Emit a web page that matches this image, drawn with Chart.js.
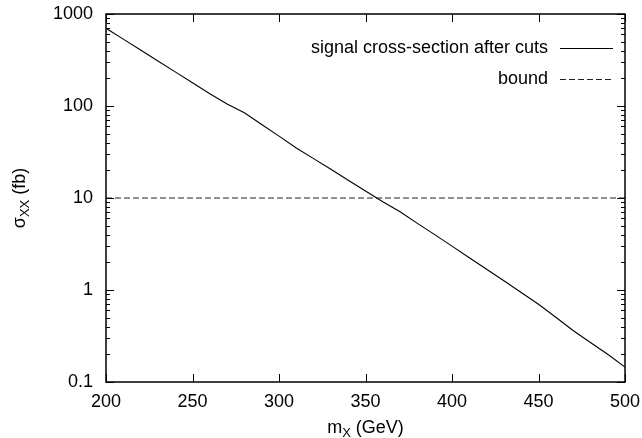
<!DOCTYPE html>
<html>
<head>
<meta charset="utf-8">
<script src="https://cdn.jsdelivr.net/npm/chart.js@4/dist/chart.umd.min.js"></script>
<style>
    body { margin: 0; background: #fff; }
    #wrap { width: 642px; height: 438px; }
</style>
</head>
<body>
<div id="wrap"><canvas id="xsecChart" width="642" height="438"></canvas></div>
<script>
// data
const massValues = [200, 210, 220, 230, 240, 250, 260, 270, 280, 290, 300, 310, 320, 330, 340, 350,
                    360, 370, 380, 390, 400, 410, 420, 430, 440, 450, 460, 470, 480, 490, 500];
const signalXsec = [700, 533, 406, 309, 235, 179, 136, 105, 84.6, 63, 47, 35, 26.8, 20.5, 15.6, 11.9,
                    9.1, 7.1, 5.3, 4.0, 3.0, 2.24, 1.68, 1.26, 0.94, 0.70, 0.506, 0.363, 0.269, 0.2, 0.145];
const boundMass = [200, 500];
const boundXsec = [10, 10];
const xTickValues = [200, 250, 300, 350, 400, 450, 500];
const yTickValues = [0.1, 1, 10, 100, 1000];
const seriesLabels = ['signal cross-section after cuts', 'bound'];

const FONT = '"Liberation Sans", Arial, Helvetica, sans-serif';

// gnuplot style frame, inward ticks, axis titles and legend
const gnuplotFrame = {
    id: 'gnuplotFrame',
    afterDraw(chart) {
        const ctx = chart.ctx;
        const area = chart.chartArea;
        const xs = chart.scales.x;
        const ys = chart.scales.y;
        ctx.save();
        ctx.strokeStyle = '#000';

        // ticks
        ctx.lineWidth = 1;
        ctx.beginPath();
        xTickValues.forEach(v => {
            const px = Math.round(xs.getPixelForValue(v)) + 0.5;
            ctx.moveTo(px, area.bottom); ctx.lineTo(px, area.bottom - 8);
            ctx.moveTo(px, area.top); ctx.lineTo(px, area.top + 8);
        });
        for (let k = -1; k <= 3; k++) {
            for (let m = 1; m <= 9; m++) {
                const v = m * Math.pow(10, k);
                if (v < 0.1 || v > 1000) continue;
                const len = m === 1 ? 8 : 4;
                const py = Math.round(ys.getPixelForValue(v)) + 0.5;
                ctx.moveTo(area.left, py); ctx.lineTo(area.left + len, py);
                ctx.moveTo(area.right, py); ctx.lineTo(area.right - len, py);
            }
        }
        ctx.stroke();

        // frame
        ctx.lineWidth = 1.5;
        ctx.strokeRect(area.left, area.top, area.right - area.left, area.bottom - area.top);

        // legend (text left of sample, right aligned)
        ctx.font = '18px ' + FONT;
        ctx.fillStyle = '#000';
        ctx.textAlign = 'right';
        ctx.textBaseline = 'middle';
        chart.data.datasets.forEach((ds, i) => {
            const ly = 48 + i * 31;
            ctx.fillText(ds.label, 548, ly);
            ctx.save();
            ctx.lineWidth = 1;
            ctx.strokeStyle = ds.borderColor;
            ctx.setLineDash(ds.borderDash || []);
            ctx.beginPath();
            ctx.moveTo(560, ly + 0.5);
            ctx.lineTo(613, ly + 0.5);
            ctx.stroke();
            ctx.restore();
        });

        // axis titles with subscripts
        const drawSub = (parts, cx, cy) => {
            let total = 0;
            parts.forEach(p => { ctx.font = p.size + 'px ' + FONT; total += ctx.measureText(p.t).width; });
            let x = cx - total / 2;
            ctx.textAlign = 'left';
            ctx.textBaseline = 'alphabetic';
            parts.forEach(p => {
                ctx.font = p.size + 'px ' + FONT;
                ctx.fillText(p.t, x, cy + (p.dy || 0));
                x += ctx.measureText(p.t).width;
            });
        };
        drawSub([{ t: 'm', size: 18 }, { t: 'X', size: 13, dy: 4 }, { t: ' (GeV)', size: 18 }],
                (area.left + area.right) / 2, 433);

        ctx.save();
        ctx.translate(25, (area.top + area.bottom) / 2);
        ctx.rotate(-Math.PI / 2);
        drawSub([{ t: 'σ', size: 18 }, { t: 'XX', size: 13, dy: 4 }, { t: ' (fb)', size: 18 }], 0, 0);
        ctx.restore();

        ctx.restore();
    }
};

const ctx = document.getElementById('xsecChart').getContext('2d');
new Chart(ctx, {
    type: 'line',
    data: {
        datasets: [{
            label: seriesLabels[0],
            data: massValues.map((m, i) => ({ x: m, y: signalXsec[i] })),
            borderColor: '#000',
            borderWidth: 1.1,
            pointRadius: 0,
            tension: 0,
            fill: false
        }, {
            label: seriesLabels[1],
            data: boundMass.map((m, i) => ({ x: m, y: boundXsec[i] })),
            borderColor: '#222',
            borderWidth: 1,
            borderDash: [6, 3],
            pointRadius: 0,
            fill: false
        }]
    },
    options: {
        responsive: false,
        animation: false,
        devicePixelRatio: 1,
        layout: {
            padding: { left: 0, top: 14, right: 17, bottom: 0 }
        },
        plugins: {
            legend: { display: false },
            tooltip: { enabled: false }
        },
        scales: {
            x: {
                type: 'linear',
                min: 200,
                max: 500,
                afterBuildTicks: scale => { scale.ticks = xTickValues.map(v => ({ value: v })); },
                afterFit: scale => {
                    scale.height = 56;
                    scale.paddingLeft = 0;
                    scale.paddingRight = 0;
                },
                grid: { display: false, drawTicks: false },
                border: { display: false },
                ticks: {
                    color: '#000',
                    padding: 9,
                    maxRotation: 0,
                    autoSkip: false,
                    font: { family: FONT, size: 18 }
                }
            },
            y: {
                type: 'logarithmic',
                min: 0.1,
                max: 1000,
                afterBuildTicks: scale => { scale.ticks = yTickValues.map(v => ({ value: v })); },
                afterFit: scale => {
                    scale.width = 106;
                    scale.paddingTop = 0;
                    scale.paddingBottom = 0;
                },
                grid: { display: false, drawTicks: false },
                border: { display: false },
                ticks: {
                    color: '#000',
                    padding: 13,
                    autoSkip: false,
                    font: { family: FONT, size: 18 },
                    callback: v => String(v)
                }
            }
        }
    },
    plugins: [gnuplotFrame]
});
</script>
</body>
</html>
